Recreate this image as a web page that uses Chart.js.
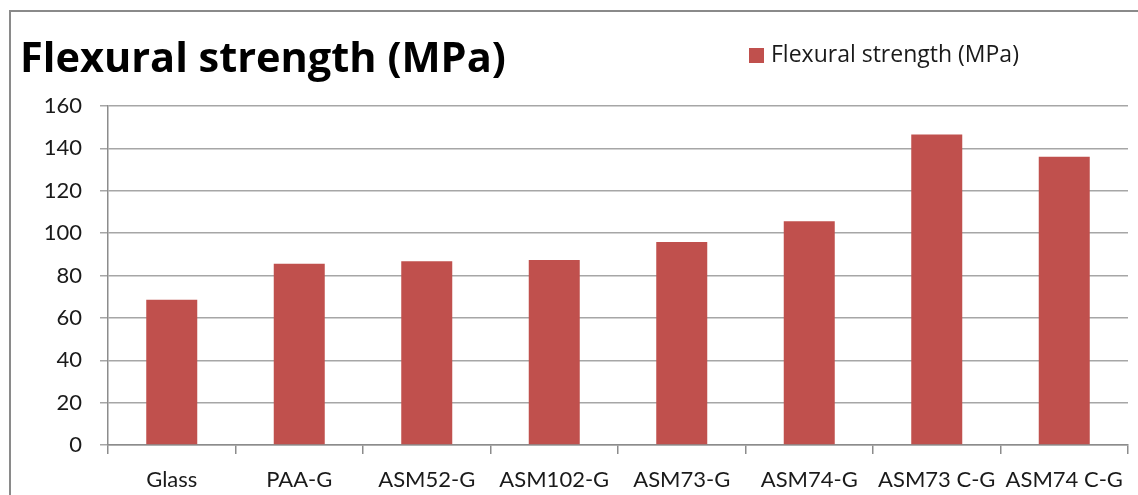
<!DOCTYPE html>
<html>
<head>
<meta charset="utf-8">
<script src="https://cdn.jsdelivr.net/npm/chart.js@4/dist/chart.umd.min.js"></script>
<style>
  html, body { margin: 0; padding: 0; background: #ffffff; }
  #wrap { width: 1138px; height: 495px; position: relative; }
</style>
</head>
<body>
<div id="wrap"><canvas id="c" width="1138" height="495"></canvas></div>
<script>
const categories = ['Glass', 'PAA-G', 'ASM52-G', 'ASM102-G', 'ASM73-G', 'ASM74-G', 'ASM73 C-G', 'ASM74 C-G'];
const strengthValues = [68.6, 85.6, 86.7, 87.3, 95.8, 105.6, 146.6, 136.0];
const seriesName = 'Flexural strength (MPa)';
const chartTitle = 'Flexural strength (MPa)';

const TICK_FONT = 'Lato, "Open Sans", sans-serif';
const HEAD_FONT = '"Open Sans", Lato, sans-serif';
const BAR_COLOR = '#C0504D';

// Outer frame, title and legend drawn on the canvas
const decorations = {
  id: 'decorations',
  beforeDraw(chart) {
    const ctx = chart.ctx;
    ctx.save();
    ctx.fillStyle = '#ffffff';
    ctx.fillRect(0, 0, chart.width, chart.height);
    ctx.strokeStyle = '#8a8a8a';
    ctx.lineWidth = 2;
    ctx.beginPath();
    ctx.moveTo(10, chart.height + 5);
    ctx.lineTo(10, 11);
    ctx.lineTo(chart.width + 5, 11);
    ctx.stroke();
    ctx.restore();
  },
  afterDraw(chart) {
    const ctx = chart.ctx;
    ctx.save();
    ctx.fillStyle = '#000000';
    ctx.textBaseline = 'middle';
    ctx.textAlign = 'left';
    ctx.font = 'bold 41.5px ' + HEAD_FONT;
    ctx.fillText(chartTitle, 20, 60);
    ctx.fillStyle = BAR_COLOR;
    ctx.fillRect(749, 48, 15, 15);
    ctx.fillStyle = '#1a1a1a';
    ctx.font = '23px ' + HEAD_FONT;
    ctx.fillText(seriesName, 771, 55);
    ctx.restore();
  }
};

new Chart(document.getElementById('c'), {
  type: 'bar',
  data: {
    labels: categories,
    datasets: [{
      label: seriesName,
      data: strengthValues,
      backgroundColor: BAR_COLOR,
      borderWidth: 0,
      categoryPercentage: 0.4,
      barPercentage: 1.0
    }]
  },
  options: {
    responsive: false,
    animation: false,
    devicePixelRatio: 1,
    layout: { padding: { top: 106, right: 10, left: 0, bottom: 0 } },
    plugins: {
      legend: { display: false },
      title: { display: false },
      tooltip: { enabled: false }
    },
    scales: {
      x: {
        afterFit(scale) { scale.height = 50; },
        offset: true,
        grid: {
          offset: true,
          drawOnChartArea: false,
          drawTicks: true,
          tickLength: 9,
          color: '#8c8c8c',
          lineWidth: 1.5
        },
        border: { display: true, color: '#8c8c8c', width: 1.5 },
        ticks: {
          color: '#1a1a1a',
          font: { family: TICK_FONT, size: 22 },
          padding: 13,
          maxRotation: 0,
          autoSkip: false
        }
      },
      y: {
        afterFit(scale) { scale.width = 108; },
        min: 0,
        max: 160,
        ticks: {
          stepSize: 20,
          color: '#1a1a1a',
          font: { family: TICK_FONT, size: 22 },
          padding: 18
        },
        grid: {
          color: '#a6a6a6',
          lineWidth: 1.5,
          tickLength: 8
        },
        border: { display: true, color: '#8c8c8c', width: 1.5 }
      }
    }
  },
  plugins: [decorations]
});
</script>
</body>
</html>
